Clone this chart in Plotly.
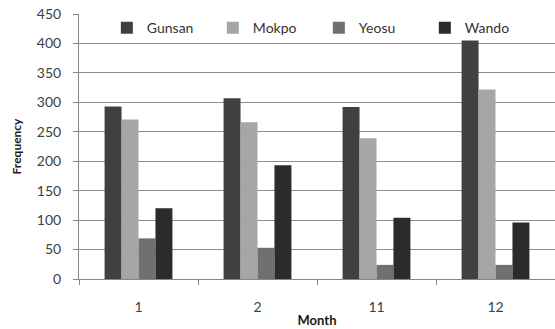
import plotly.graph_objects as go

months = ["1", "2", "11", "12"]
gunsan = [293, 307, 292, 405]
mokpo = [271, 266, 239, 322]
yeosu = [69, 53, 24, 24]
wando = [120, 193, 104, 96]

series = [
    ("Gunsan", gunsan, "#404040"),
    ("Mokpo", mokpo, "#a6a6a6"),
    ("Yeosu", yeosu, "#707070"),
    ("Wando", wando, "#2b2b2b"),
]

fig = go.Figure()
for name, vals, col in series:
    fig.add_trace(go.Bar(x=months, y=vals, name=name, marker=dict(color=col, line=dict(width=0))))

font_fam = "Lato, 'Open Sans', sans-serif"
fig.update_layout(
    width=555, height=329,
    margin=dict(l=79, r=0, t=14, b=50),
    paper_bgcolor="white", plot_bgcolor="white",
    barmode="group", bargap=0.43, bargroupgap=0,
    font=dict(family=font_fam, size=14, color="#404040"),
    legend=dict(orientation="h", x=0.0585, xanchor="left", y=0.947, yanchor="middle",
                bgcolor="rgba(0,0,0,0)", font=dict(size=14, color="#333333"),
                entrywidth=61, entrywidthmode="pixels", itemwidth=30),
    xaxis=dict(type="category", showgrid=False, showline=True, linecolor="#868686", linewidth=1,
               ticks="outside", ticklen=5, tickcolor="#868686", tickson="boundaries",
               tickfont=dict(size=14, color="#404040"), ticklabelstandoff=15,
               title=dict(text="<b>Month</b>", font=dict(size=13, color="#1a1a1a"), standoff=2)),
    yaxis=dict(range=[0, 450], dtick=50, showgrid=True, gridcolor="#8c8c8c", gridwidth=1,
               showline=True, linecolor="#868686", linewidth=1, zeroline=False,
               ticks="outside", ticklen=5, tickcolor="#868686",
               tickfont=dict(size=14, color="#404040"), ticklabelstandoff=9,
               title=dict(text="<b>Frequency</b>", font=dict(size=12, color="#1a1a1a"), standoff=12)),
)
fig.write_html("out.html", config={"displayModeBar": False},
               post_script="document.body.style.margin='0';document.body.style.overflow='hidden';")
